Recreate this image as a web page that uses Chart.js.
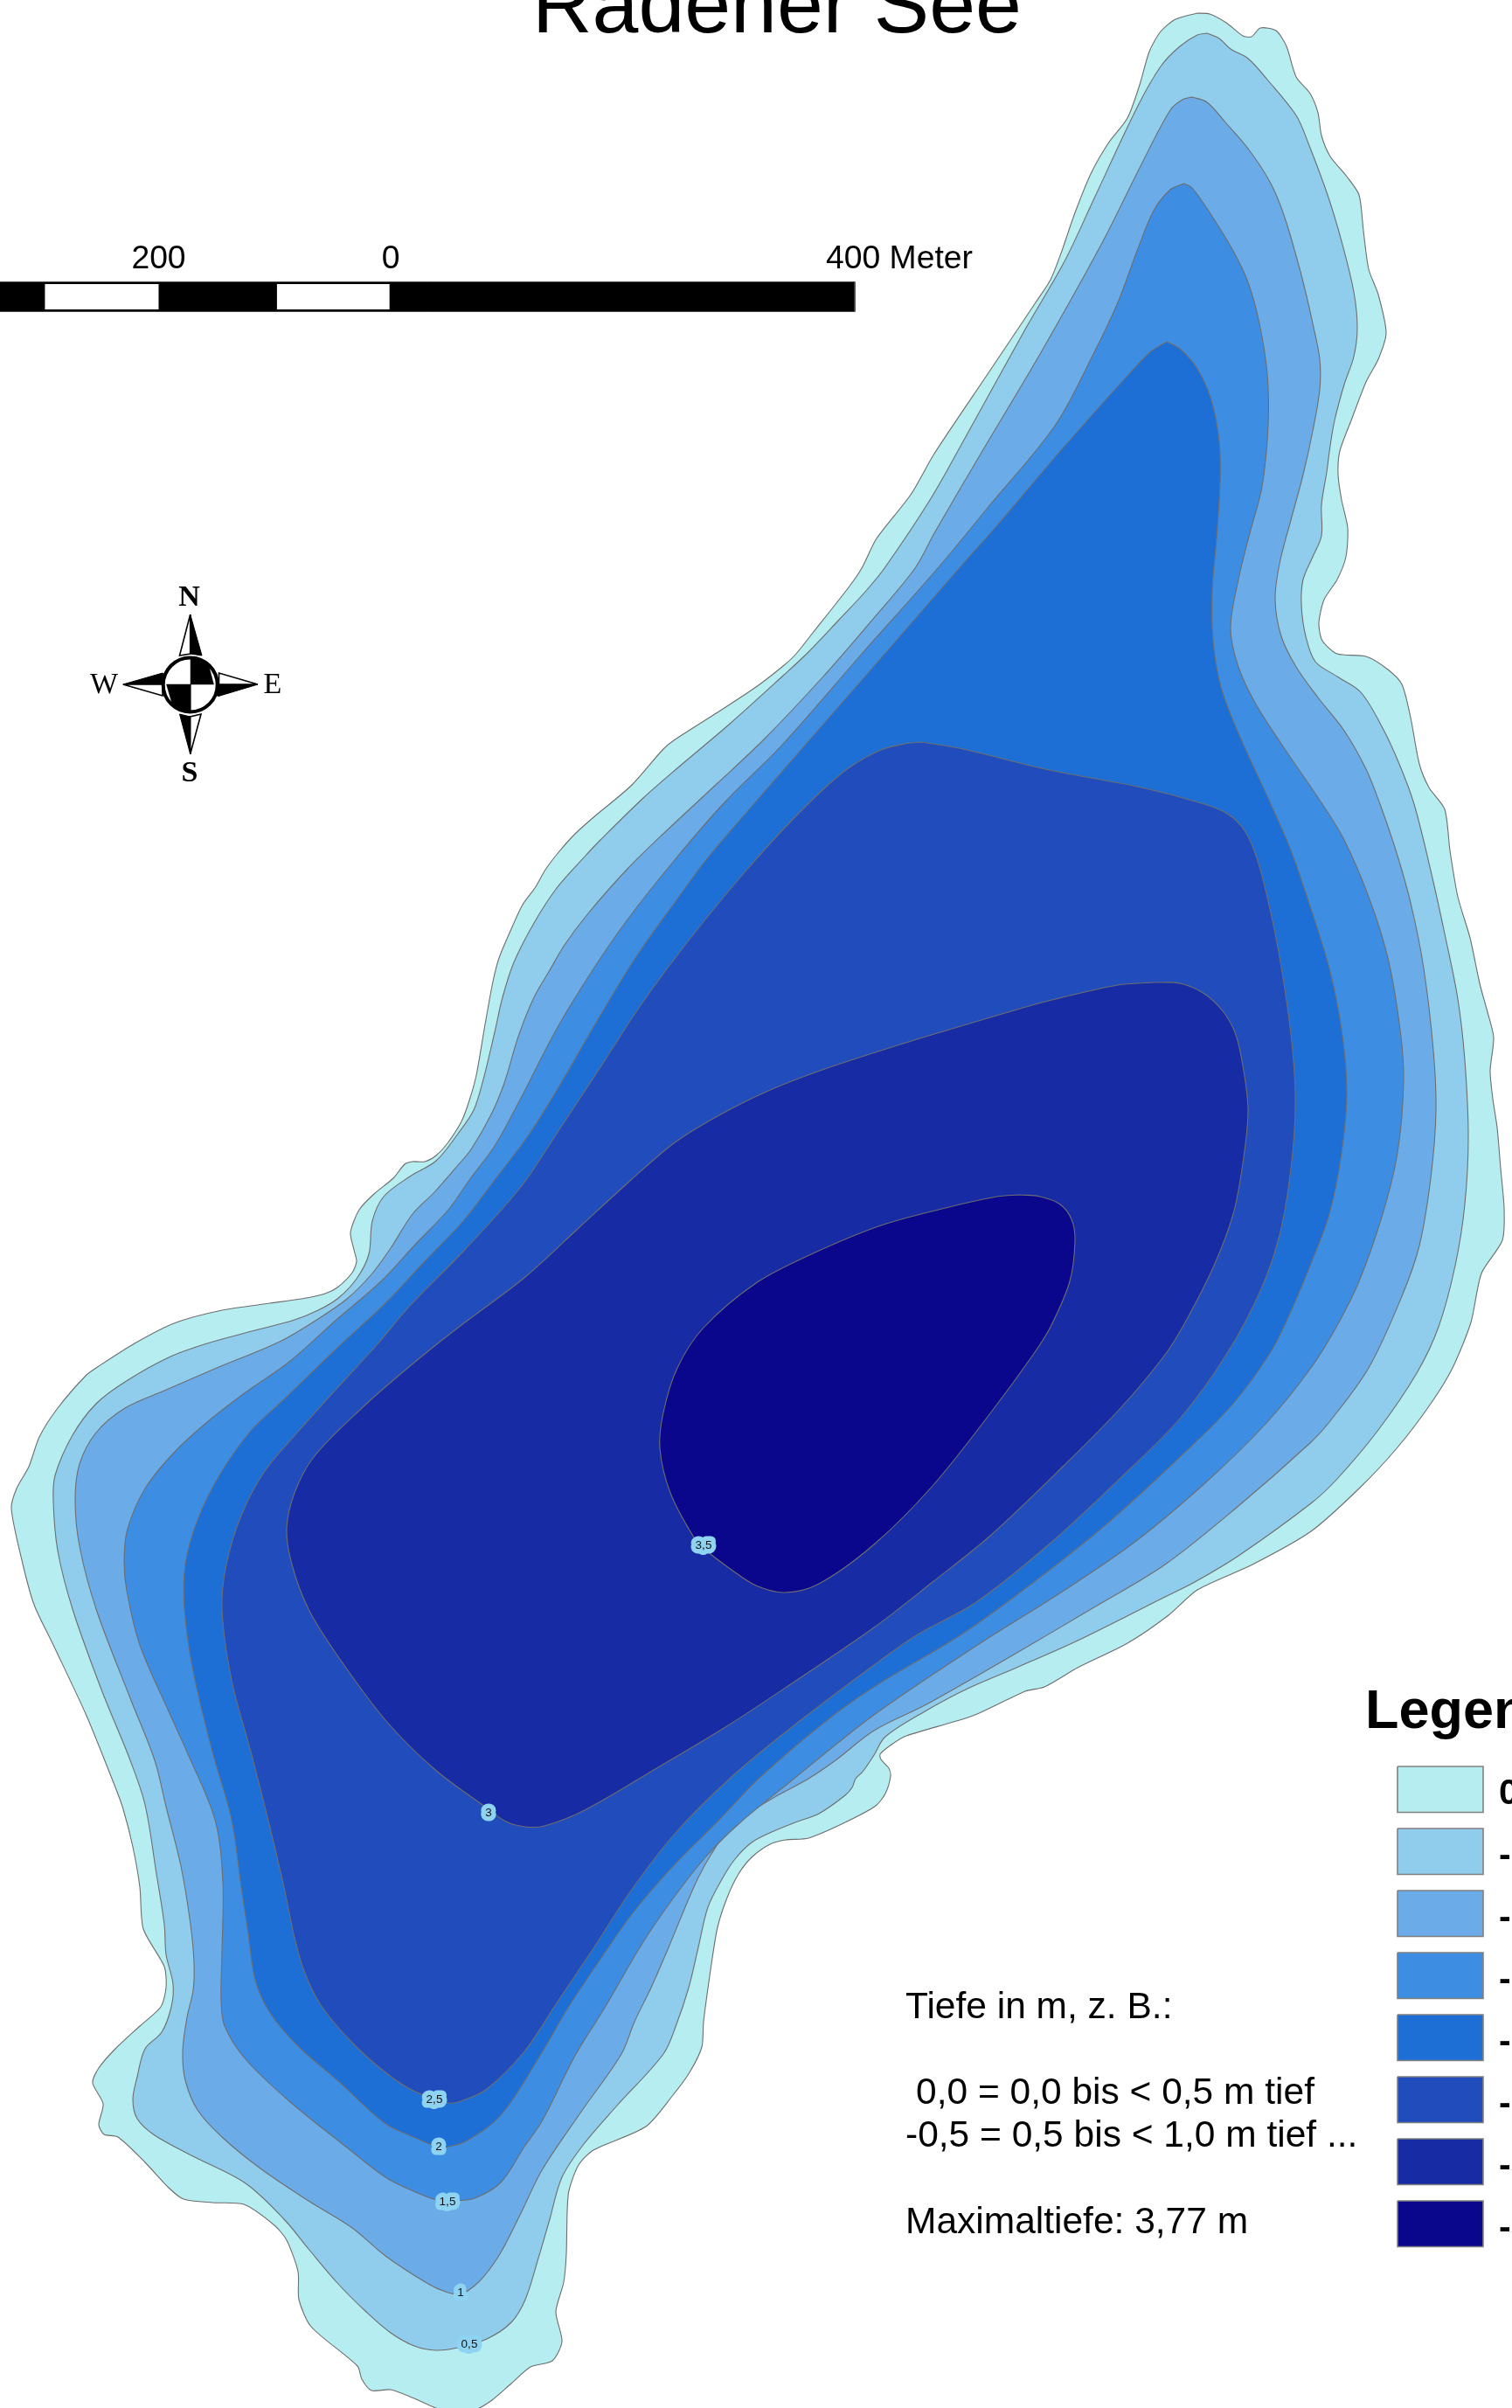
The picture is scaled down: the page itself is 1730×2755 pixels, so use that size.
<!DOCTYPE html>
<html>
<head>
<meta charset="utf-8">
<title>Radener See</title>
<script src="https://cdn.jsdelivr.net/npm/chart.js@4/dist/chart.umd.min.js"></script>
<style>
  html, body { margin: 0; padding: 0; background: #fff; overflow: hidden; }
  #wrap { position: absolute; left: 0; top: 0; width: 1730px; height: 2755px; }
</style>
</head>
<body>
<div id="wrap"><canvas id="map" width="1730" height="2755"></canvas></div>
<script>
// depth contours, traced clockwise from the northern end, map units
const shoreline = [[1370,15],[1384,16],[1403,26],[1422,41],[1432,42],[1442,32],[1460,35],[1472,53],[1483,88],[1499,107],[1508,129],[1512,155],[1522,179],[1541,202],[1555,223],[1560,264],[1566,308],[1577,337],[1586,381],[1577,411],[1563,437],[1546,481],[1533,516],[1531,543],[1535,572],[1542,604],[1540,637],[1530,663],[1515,686],[1509,713],[1513,733],[1530,748],[1563,751],[1588,766],[1604,783],[1614,821],[1624,874],[1635,901],[1653,926],[1659,973],[1668,1026],[1682,1073],[1693,1125],[1702,1158],[1709,1187],[1705,1225],[1708,1257],[1713,1290],[1717,1337],[1721,1383],[1719,1419],[1695,1457],[1683,1513],[1662,1565],[1637,1606],[1599,1656],[1555,1703],[1500,1752],[1433,1790],[1370,1819],[1337,1848],[1290,1880],[1233,1908],[1195,1930],[1173,1935],[1113,1963],[1037,1986],[1020,1996],[1007,2007],[1008,2013],[1017,2023],[1019,2032],[1013,2052],[1002,2066],[967,2085],[925,2103],[899,2105],[881,2110],[860,2125],[845,2144],[832,2171],[821,2205],[814,2247],[805,2313],[803,2342],[789,2371],[770,2397],[739,2433],[679,2460],[662,2477],[651,2506],[649,2530],[648,2578],[645,2611],[636,2645],[643,2679],[632,2701],[607,2708],[585,2727],[563,2746],[543,2757],[505,2757],[474,2744],[447,2734],[425,2735],[414,2722],[409,2707],[356,2662],[342,2631],[341,2599],[328,2563],[314,2546],[279,2522],[243,2520],[210,2516],[193,2503],[166,2474],[135,2445],[119,2442],[113,2431],[118,2407],[106,2383],[113,2366],[132,2344],[160,2318],[184,2296],[190,2274],[188,2250],[164,2207],[160,2159],[152,2113],[141,2070],[132,2045],[99,1963],[61,1882],[39,1836],[25,1785],[13,1726],[19,1703],[33,1678],[45,1644],[66,1611],[99,1573],[113,1563],[154,1537],[199,1514],[254,1499],[309,1491],[345,1486],[372,1480],[386,1473],[403,1456],[408,1443],[405,1430],[401,1410],[411,1384],[428,1366],[450,1348],[463,1332],[472,1329],[486,1329],[499,1322],[512,1308],[528,1283],[537,1259],[545,1230],[555,1172],[564,1123],[571,1096],[584,1065],[598,1035],[612,1016],[624,995],[640,974],[658,954],[678,936],[722,899],[758,858],[771,847],[821,815],[865,786],[896,762],[910,749],[930,724],[971,672],[986,650],[1003,616],[1042,566],[1069,519],[1130,428],[1185,346],[1202,320],[1215,287],[1229,246],[1248,199],[1268,164],[1290,135],[1304,97],[1315,59],[1328,36],[1345,22]];

const depth05 = [[1381,38],[1395,44],[1408,56],[1428,67],[1450,91],[1483,132],[1497,164],[1519,223],[1535,276],[1549,334],[1553,375],[1549,408],[1538,440],[1527,481],[1522,510],[1518,540],[1512,578],[1512,613],[1502,637],[1491,663],[1489,692],[1494,728],[1505,757],[1530,774],[1557,792],[1582,833],[1601,874],[1618,920],[1637,996],[1654,1073],[1668,1143],[1676,1213],[1680,1301],[1676,1378],[1665,1448],[1646,1518],[1621,1571],[1577,1636],[1530,1692],[1500,1720],[1417,1780],[1367,1810],[1333,1827],[1233,1877],[1163,1908],[1107,1932],[1060,1957],[1013,1987],[1000,2008],[987,2027],[979,2035],[975,2045],[967,2054],[937,2075],[910,2085],[883,2096],[860,2108],[841,2127],[826,2150],[810,2182],[799,2228],[788,2274],[774,2316],[759,2350],[706,2409],[668,2453],[643,2491],[629,2539],[615,2587],[601,2631],[585,2657],[557,2676],[524,2686],[499,2689],[474,2684],[447,2669],[419,2645],[386,2612],[353,2573],[325,2539],[281,2498],[221,2467],[177,2443],[157,2424],[152,2402],[157,2376],[166,2344],[185,2325],[196,2296],[198,2270],[190,2236],[188,2202],[179,2144],[166,2065],[149,2014],[116,1933],[83,1841],[66,1774],[61,1718],[63,1688],[83,1642],[110,1606],[143,1581],[193,1553],[237,1537],[292,1522],[337,1510],[364,1499],[386,1486],[408,1463],[422,1435],[426,1397],[439,1369],[469,1346],[499,1328],[524,1297],[542,1270],[553,1235],[566,1181],[575,1141],[588,1101],[611,1056],[637,1016],[669,980],[687,961],[736,913],[776,878],[834,829],[896,773],[925,746],[961,708],[990,677],[1012,650],[1064,572],[1102,505],[1174,375],[1218,299],[1251,229],[1301,123],[1328,76],[1350,53],[1370,40]];

const depth10 = [[1364,111],[1381,117],[1403,141],[1428,170],[1453,208],[1469,246],[1488,311],[1502,370],[1510,411],[1510,446],[1502,493],[1491,543],[1477,595],[1464,645],[1459,686],[1466,728],[1483,763],[1508,798],[1538,836],[1563,880],[1579,920],[1599,979],[1615,1037],[1629,1108],[1640,1202],[1643,1272],[1637,1348],[1624,1425],[1604,1483],[1566,1565],[1521,1627],[1500,1650],[1417,1723],[1333,1790],[1250,1840],[1160,1893],[1060,1950],[1000,1980],[956,2014],[925,2035],[883,2058],[856,2075],[833,2094],[814,2121],[799,2148],[784,2182],[765,2228],[745,2274],[726,2313],[711,2350],[665,2416],[620,2483],[597,2530],[573,2577],[555,2603],[543,2615],[527,2625],[510,2622],[490,2613],[441,2581],[403,2549],[353,2518],[298,2481],[254,2445],[226,2414],[212,2380],[209,2347],[214,2308],[221,2277],[222,2246],[218,2202],[207,2135],[190,2067],[177,2014],[149,1943],[110,1841],[91,1769],[86,1716],[91,1675],[110,1639],[143,1611],[188,1591],[248,1565],[320,1535],[364,1509],[397,1486],[425,1458],[447,1428],[472,1389],[497,1364],[524,1333],[539,1315],[562,1275],[577,1239],[593,1186],[611,1141],[629,1110],[646,1081],[673,1045],[718,994],[762,951],[821,896],[874,846],[941,775],[999,708],[1047,650],[1069,610],[1124,516],[1190,405],[1262,276],[1306,188],[1339,126],[1353,114]];

const depth15 = [[1355,210],[1364,215],[1384,243],[1411,287],[1428,323],[1441,370],[1450,428],[1451,487],[1444,557],[1430,610],[1417,663],[1408,719],[1417,763],[1436,804],[1466,851],[1513,920],[1538,961],[1566,1026],[1588,1096],[1602,1178],[1606,1237],[1599,1319],[1582,1389],[1555,1466],[1528,1520],[1500,1565],[1450,1627],[1383,1693],[1300,1763],[1217,1820],[1117,1883],[1000,1962],[906,2037],[845,2087],[807,2125],[768,2175],[734,2225],[692,2297],[659,2350],[620,2427],[600,2456],[573,2497],[543,2515],[520,2518],[503,2518],[473,2507],[441,2491],[397,2457],[331,2404],[281,2356],[257,2318],[253,2289],[254,2231],[255,2154],[246,2082],[212,2000],[193,1958],[160,1882],[145,1820],[142,1785],[146,1749],[166,1703],[199,1662],[237,1627],[281,1593],[331,1558],[386,1509],[436,1466],[474,1425],[513,1384],[537,1350],[566,1311],[593,1262],[637,1177],[678,1110],[718,1052],[771,985],[829,918],[896,851],[986,748],[1073,650],[1130,581],[1207,487],[1251,405],[1279,346],[1301,287],[1320,241],[1339,217]];

const depth20 = [[1335,391],[1350,399],[1370,422],[1386,458],[1395,505],[1396,551],[1392,616],[1387,675],[1388,733],[1397,786],[1417,839],[1454,920],[1477,973],[1499,1037],[1521,1108],[1535,1178],[1541,1249],[1535,1319],[1521,1389],[1499,1448],[1478,1498],[1455,1545],[1410,1607],[1350,1667],[1267,1743],[1183,1810],[1100,1870],[1000,1930],[944,1970],[868,2035],[822,2083],[772,2133],[726,2186],[688,2240],[650,2297],[619,2350],[573,2420],[533,2450],[513,2456],[503,2457],[473,2445],[440,2429],[386,2380],[342,2342],[309,2303],[292,2265],[284,2212],[276,2159],[265,2082],[243,2004],[221,1912],[211,1841],[212,1790],[226,1739],[251,1688],[287,1637],[325,1601],[386,1542],[441,1491],[486,1443],[530,1397],[566,1350],[606,1297],[642,1239],[682,1170],[727,1096],[771,1034],[807,985],[852,932],[919,855],[1008,753],[1102,645],[1141,601],[1215,514],[1290,430],[1317,402]];

const depth25 = [[1055,849],[1102,857],[1196,880],[1306,901],[1378,920],[1406,932],[1425,952],[1439,985],[1455,1049],[1469,1125],[1479,1202],[1482,1266],[1477,1337],[1464,1413],[1442,1477],[1403,1550],[1350,1623],[1283,1690],[1200,1767],[1117,1833],[1050,1870],[1000,1905],[906,1976],[837,2033],[772,2098],[722,2163],[677,2232],[638,2290],[600,2347],[557,2390],[530,2403],[513,2406],[473,2392],[441,2371],[403,2337],[367,2294],[348,2255],[337,2217],[325,2159],[309,2091],[287,2004],[265,1922],[254,1841],[259,1790],[276,1734],[303,1683],[342,1637],[386,1588],[430,1540],[469,1494],[524,1438],[574,1384],[602,1350],[637,1297],[687,1221],[727,1159],[762,1110],[807,1052],[852,998],[896,949],[941,904],[972,878],[1008,858],[1035,851]];

const depth30 = [[1320,1124],[1350,1125],[1378,1137],[1400,1158],[1414,1184],[1423,1225],[1428,1272],[1422,1331],[1411,1389],[1389,1448],[1356,1513],[1333,1550],[1283,1610],[1217,1677],[1133,1757],[1067,1810],[1000,1862],[906,1926],[830,1976],[753,2022],[669,2071],[623,2089],[601,2090],[579,2084],[552,2065],[497,2024],[441,1968],[386,1894],[353,1841],[334,1790],[328,1749],[337,1708],[359,1667],[414,1611],[469,1563],[524,1519],[601,1461],[662,1405],[722,1350],[771,1308],[821,1277],[879,1248],[941,1224],[1030,1195],[1086,1178],[1150,1159],[1196,1146],[1279,1127]];

const depth35 = [[1166,1367],[1190,1369],[1213,1378],[1226,1395],[1230,1419],[1224,1466],[1202,1518],[1182,1550],[1133,1617],[1067,1700],[1000,1767],[937,1812],[898,1822],[865,1814],[837,1796],[807,1773],[794,1759],[767,1708],[755,1657],[759,1616],[775,1565],[805,1519],[865,1468],[926,1436],[1008,1402],[1086,1381],[1141,1369]];

const contours = [shoreline, depth05, depth10, depth15, depth20, depth25, depth30, depth35];
const depthColors = ['#b5edf0', '#90ccec', '#6bace8', '#3d8de3', '#1e6fd5', '#214cbc', '#172ba5', '#0a078c'];
const legendLabels = ['0,0', '-0,5', '-1,0', '-1,5', '-2,0', '-2,5', '-3,0', '-3,5'];

// contour labels with the spot where each sits on its line
const contourLabels = ['0,5', '1', '1,5', '2', '2,5', '3', '3,5'];
const contourLabelX = [537, 527, 512, 502, 497, 559, 805];
const contourLabelY = [2682, 2623, 2519, 2456, 2402, 2074, 1768];

// scale bar, metres from the 0 mark
const scaleFields = [[-298, -200], [-98, -1]];
const scaleLabels = ['200', '0', '400 Meter'];
const scaleLabelMetres = [-200, 0, 400];

// compass rose
const compassBlack = [
  [[217.7,703],[231,750],[217.7,748]],
  [[295,783],[250,796.5],[217.7,783]],
  [[217.7,862.7],[205.5,817],[217.7,820]],
  [[140.8,783],[186,770],[186,783]]
];
const compassWhite = [
  [[217.7,703],[205.5,750],[217.7,748]],
  [[295,783],[250.5,770],[250.5,783]],
  [[217.7,862.7],[230,817],[217.7,820]],
  [[140.8,783],[186,796],[186,783]]
];
const compassQuadrants = [
  [[218,753],[238,758],[244.5,783],[218,783]],
  [[190.5,783],[218,783],[218,814.5],[198,809]]
];

const metresToX = m => 447 + m * 1.3275;
const rect = (x0, y0, x1, y1) => [[x0, y0], [x1, y0], [x1, y1], [x0, y1]];

function polygon(points, color, stroke, width, tension) {
  return {
    data: points.concat([points[0]]).map(p => ({ x: p[0], y: p[1] })),
    showLine: true,
    fill: 'shape',
    backgroundColor: color,
    borderColor: stroke,
    borderWidth: width,
    tension: tension,
    pointRadius: 0
  };
}

const layers = [];

contours.forEach((c, i) => layers.push(polygon(c, depthColors[i], '#6e6e6e', 1.1, i === 0 ? 0.25 : 0.33)));

// scale bar: black body, then white 100 m fields
layers.push(polygon(rect(metresToX(-400), 322.5, metresToX(400), 356.5), '#000', '#444', 1, 0));
scaleFields.forEach(f => {
  layers.push(polygon(rect(metresToX(f[0]), 325, metresToX(f[1]), 354), '#fff', '#fff', 0, 0));
});

// compass
compassBlack.forEach(p => layers.push(polygon(p, '#000', '#000', 1, 0)));
compassWhite.forEach(p => layers.push(polygon(p, '#fff', '#000', 1.6, 0)));
layers.push({
  data: [{ x: 217.7, y: 783.4 }],
  pointRadius: 31,
  pointBackgroundColor: '#fff',
  pointBorderColor: '#000',
  pointBorderWidth: 4
});
compassQuadrants.forEach(p => layers.push(polygon(p, '#000', '#000', 0.5, 0)));

// legend swatches
depthColors.forEach((color, i) => {
  const top = 2021 + i * 71;
  layers.push(polygon(rect(1599, top, 1697, top + 52.5), color, '#808080', 1.6, 0));
});

// chart.js paints the first dataset on top, the map wants the last one there
layers.reverse();

const mapText = {
  id: 'mapText',
  afterDatasetsDraw(chart) {
    const { ctx, scales: { x, y } } = chart;
    const put = (txt, px, py, font, align) => {
      ctx.font = font;
      ctx.textAlign = align || 'left';
      ctx.fillStyle = '#000';
      ctx.fillText(txt, x.getPixelForValue(px), y.getPixelForValue(py));
    };
    ctx.save();
    ctx.textBaseline = 'alphabetic';

    const sans = '"Liberation Sans", Arial, sans-serif';
    const serif = '"Liberation Serif", "Times New Roman", serif';

    put('Radener See', 609, 37, `95px ${sans}`);

    scaleLabels.forEach((t, i) => {
      const cx = metresToX(scaleLabelMetres[i]);
      if (i === 2) put(t, 945, 307, `37.3px ${sans}`);
      else put(t, cx, 307, `37.3px ${sans}`, 'center');
    });

    put('N', 216.5, 693, `bold 34px ${serif}`, 'center');
    put('S', 217, 894, `bold 34px ${serif}`, 'center');
    put('W', 119, 793, `34px ${serif}`, 'center');
    put('E', 312, 793, `34px ${serif}`, 'center');

    put('Tiefe in m, z. B.:', 1036, 2309, `42.5px ${sans}`);
    put('0,0 = 0,0 bis < 0,5 m tief', 1048, 2407, `42.5px ${sans}`);
    put('-0,5 = 0,5 bis < 1,0 m tief ...', 1036, 2456, `42.5px ${sans}`);
    put('Maximaltiefe: 3,77 m', 1036, 2555, `42.5px ${sans}`);

    put('Legende', 1562, 1977, `bold 63px ${sans}`);
    legendLabels.forEach((t, i) => put(t, 1715, 2064 + i * 71, `bold 41px ${sans}`));

    // contour labels sit in a pale halo that breaks the line
    ctx.textAlign = 'center';
    ctx.textBaseline = 'middle';
    ctx.font = `13.5px ${sans}`;
    ctx.lineJoin = 'round';
    contourLabels.forEach((t, i) => {
      const px = x.getPixelForValue(contourLabelX[i]);
      const py = y.getPixelForValue(contourLabelY[i]);
      ctx.lineWidth = 11;
      ctx.strokeStyle = '#8fd3f2';
      ctx.strokeText(t, px, py);
      ctx.fillStyle = '#111';
      ctx.fillText(t, px, py);
    });
    ctx.restore();
  }
};

new Chart(document.getElementById('map').getContext('2d'), {
  type: 'scatter',
  data: { datasets: layers },
  plugins: [mapText],
  options: {
    responsive: false,
    animation: false,
    events: [],
    layout: { padding: 0, autoPadding: false },
    plugins: { legend: { display: false }, title: { display: false }, tooltip: { enabled: false } },
    scales: {
      x: { type: 'linear', display: false, min: 0, max: 1730 },
      y: { type: 'linear', display: false, min: 0, max: 2755, reverse: true }
    }
  }
});
</script>
</body>
</html>
